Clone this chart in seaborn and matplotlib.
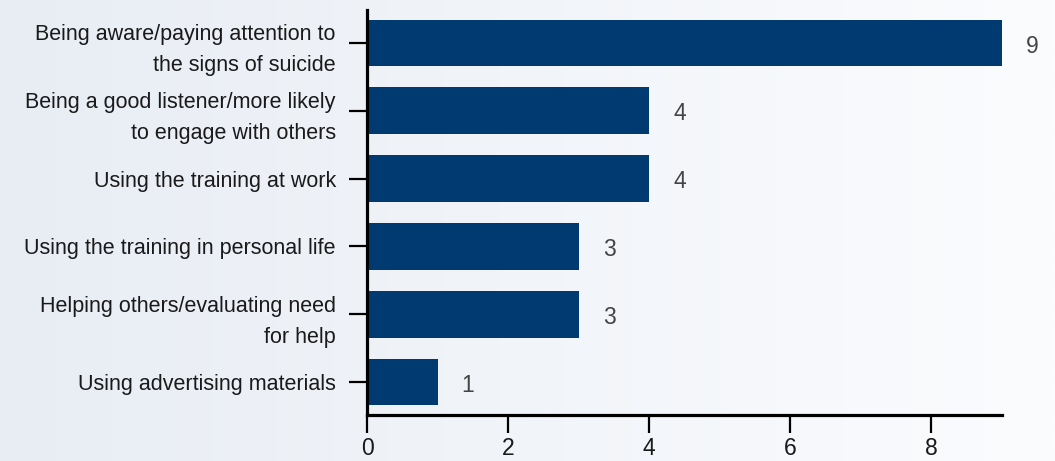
import numpy as np
import pandas as pd
import matplotlib
matplotlib.use("Agg")
import matplotlib.pyplot as plt
import seaborn as sns

categories = [
    "Being aware/paying attention to\nthe signs of suicide",
    "Being a good listener/more likely\nto engage with others",
    "Using the training at work",
    "Using the training in personal life",
    "Helping others/evaluating need\nfor help",
    "Using advertising materials",
]
counts = [9, 4, 4, 3, 3, 1]
x_ticks = [0, 2, 4, 6, 8]

df = pd.DataFrame({"category": categories, "count": counts})

sns.set_theme(style="white")
plt.rcParams["font.family"] = ["Liberation Sans", "DejaVu Sans"]

W, H, DPI = 1055, 461, 100
fig = plt.figure(figsize=(W / DPI, H / DPI), dpi=DPI)

# soft horizontal gradient behind everything
bg = fig.add_axes([0, 0, 1, 1], zorder=-10)
left_c = np.array([232, 237, 244]) / 255
right_c = np.array([251, 252, 254]) / 255
t = np.linspace(0, 1, 512)[None, :, None]
grad = left_c * (1 - t) + right_c * t
bg.imshow(grad, aspect="auto", extent=[0, 1, 0, 1])
bg.axis("off")

x0, x1 = 367, 1002
y_top, y_bot = 10, 415
ax = fig.add_axes([x0 / W, 1 - y_bot / H, (x1 - x0) / W, (y_bot - y_top) / H])
ax.patch.set_alpha(0)

sns.barplot(data=df, y="category", x="count", orient="h", color="#003a70",
            saturation=1, width=0.68, linewidth=0, ax=ax)

ax.set_xlim(0, 9)
ax.set_ylim(5.48, -0.48)
ax.set_xticks(x_ticks)
ax.set_xlabel("")
ax.set_ylabel("")

FS_CAT = 15.5
FS_NUM = 16.5
for i, v in enumerate(counts):
    ax.text(v + 0.43, i + 0.05, str(v), ha="center", va="center",
            fontsize=FS_NUM, color="#444444")

for side in ["top", "right"]:
    ax.spines[side].set_visible(False)
for side in ["left", "bottom"]:
    ax.spines[side].set_linewidth(2.3)
    ax.spines[side].set_color("black")

ax.tick_params(axis="y", which="major", length=13, width=1.6, color="black",
               pad=9.5, labelsize=FS_CAT, labelcolor="#1a1a1a", left=True)
ax.tick_params(axis="x", which="major", length=13, width=1.6, color="black",
               pad=3, labelsize=FS_NUM, labelcolor="#1a1a1a", bottom=True)
for lbl in ax.get_yticklabels():
    lbl.set_linespacing(1.6)

fig.savefig("out.png", dpi=DPI)
